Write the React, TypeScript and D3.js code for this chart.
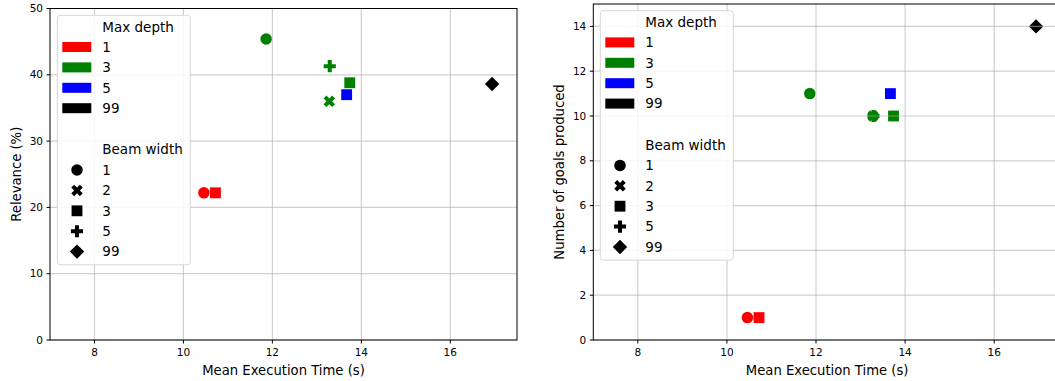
import * as d3 from "d3";

// shared runs (max depth / beam width), times in seconds
const execTime = [10.46, 10.72, 11.86, 13.29, 13.28, 13.74, 13.67, 16.94];
const maxDepth = [1, 1, 3, 3, 3, 3, 5, 99];
const beamWidth = [1, 3, 1, 5, 2, 3, 3, 99];

const relevance = [22.2, 22.2, 45.4, 41.3, 36.0, 38.8, 37.0, 38.6];
const goalsProduced = [1, 1, 11, 10, 10, 10, 11, 14];

const depthLevels = [1, 3, 5, 99];
const depthColors = ["#ff0000", "#008000", "#0000ff", "#000000"];
const beamLevels = [1, 2, 3, 5, 99];

const xTicks = [8, 10, 12, 14, 16];
const relTicks = [0, 10, 20, 30, 40, 50];
const goalTicks = [0, 2, 4, 6, 8, 10, 12, 14];

const FONT = "DejaVu Sans, sans-serif";

const color = d3.scaleOrdinal<number, string>().domain(depthLevels).range(depthColors);

function markerPath(beam: number) {
  switch (beam) {
    case 1:
      return { d: d3.symbol(d3.symbolCircle, 104)()!, rot: 0 };
    case 2:
      return { d: d3.symbol(d3.symbolCross, 82)()!, rot: 45 };
    case 3:
      return { d: d3.symbol(d3.symbolSquare, 118)()!, rot: 0 };
    case 5:
      return { d: d3.symbol(d3.symbolCross, 82)()!, rot: 0 };
    default:
      return { d: d3.symbol(d3.symbolSquare, 104)()!, rot: 45 };
  }
}

function Legend({ x, y }: { x: number; y: number }) {
  const row = 20.4;
  return (
    <g transform={`translate(${x},${y})`}>
      <rect x={0} y={0} width={133} height={249.5} rx={3} fill="white" fillOpacity={0.85} stroke="#d6d6d6" />
      <text x={45} y={11.5} dy="0.35em" fontSize={13.5} fontFamily={FONT}>Max depth</text>
      {depthLevels.map((d, i) => (
        <g key={"d" + d}>
          <rect x={5} y={31.7 + i * row - 5} width={29} height={10} fill={color(d)} />
          <text x={45} y={31.7 + i * row} dy="0.35em" fontSize={13.5} fontFamily={FONT}>{d}</text>
        </g>
      ))}
      <text x={45} y={134.4} dy="0.35em" fontSize={13.5} fontFamily={FONT}>Beam width</text>
      {beamLevels.map((b, i) => {
        const m = markerPath(b);
        const cy = 154.7 + i * row;
        return (
          <g key={"b" + b}>
            <path d={m.d} transform={`translate(19.7,${cy}) rotate(${m.rot})`} fill="black" />
            <text x={45} y={cy} dy="0.35em" fontSize={13.5} fontFamily={FONT}>{b}</text>
          </g>
        );
      })}
    </g>
  );
}

function Panel({
  left, right, top, bottom, yDomain, yTicks, values, yLabel, yLabelX, legendX, legendY,
}: {
  left: number; right: number; top: number; bottom: number; yDomain: [number, number];
  yTicks: number[]; values: number[]; yLabel: string; yLabelX: number; legendX: number; legendY: number;
}) {
  const x = d3.scaleLinear().domain([7, 17.5]).range([left, right]);
  const y = d3.scaleLinear().domain(yDomain).range([bottom, top]);
  const idx = d3.range(values.length);
  return (
    <g>
      {idx.map((i) => {
        const m = markerPath(beamWidth[i]);
        return (
          <path key={i} d={m.d}
            transform={`translate(${x(execTime[i])},${y(values[i])}) rotate(${m.rot})`}
            fill={color(maxDepth[i])} />
        );
      })}
      {/* grid on top of markers */}
      {xTicks.map((t) => (
        <line key={"gx" + t} x1={x(t)} x2={x(t)} y1={top} y2={bottom} stroke="#b0b0b0" strokeOpacity={0.6} strokeWidth={1.2} />
      ))}
      {yTicks.map((t) => (
        <line key={"gy" + t} x1={left} x2={right} y1={y(t)} y2={y(t)} stroke="#b0b0b0" strokeOpacity={0.6} strokeWidth={1.2} />
      ))}
      <rect x={left} y={top} width={right - left} height={bottom - top} fill="none" stroke="black" strokeWidth={1} />
      {xTicks.map((t) => (
        <g key={"tx" + t}>
          <line x1={x(t)} x2={x(t)} y1={bottom} y2={bottom + 3.5} stroke="black" />
          <text x={x(t)} y={bottom + 12.5} dy="0.35em" textAnchor="middle" fontSize={10.5} fontFamily={FONT}>{t}</text>
        </g>
      ))}
      {yTicks.map((t) => (
        <g key={"ty" + t}>
          <line x1={left - 3.5} x2={left} y1={y(t)} y2={y(t)} stroke="black" />
          <text x={left - 7} y={y(t)} dy="0.35em" textAnchor="end" fontSize={10.5} fontFamily={FONT}>{t}</text>
        </g>
      ))}
      <text x={(left + right) / 2} y={370} dy="0.35em" textAnchor="middle" fontSize={13.2} fontFamily={FONT}>Mean Execution Time (s)</text>
      <text transform={`translate(${yLabelX},${(top + bottom) / 2}) rotate(-90)`} dy="0.35em" textAnchor="middle" fontSize={13.2} fontFamily={FONT}>{yLabel}</text>
      <Legend x={legendX} y={legendY} />
    </g>
  );
}

export default function App() {
  return (
    <svg width={1055} height={381} style={{ position: "absolute", left: 0, top: 0, background: "white" }}>
      <Panel left={50} right={517} top={8.5} bottom={340} yDomain={[0, 50]} yTicks={relTicks}
        values={relevance} yLabel="Relevance (%)" yLabelX={16} legendX={57.3} legendY={15.3} />
      <Panel left={593.3} right={1061} top={4} bottom={340} yDomain={[0, 15]} yTicks={goalTicks}
        values={goalsProduced} yLabel="Number of goals produced" yLabelX={559} legendX={600.3} legendY={10.7} />
    </svg>
  );
}
